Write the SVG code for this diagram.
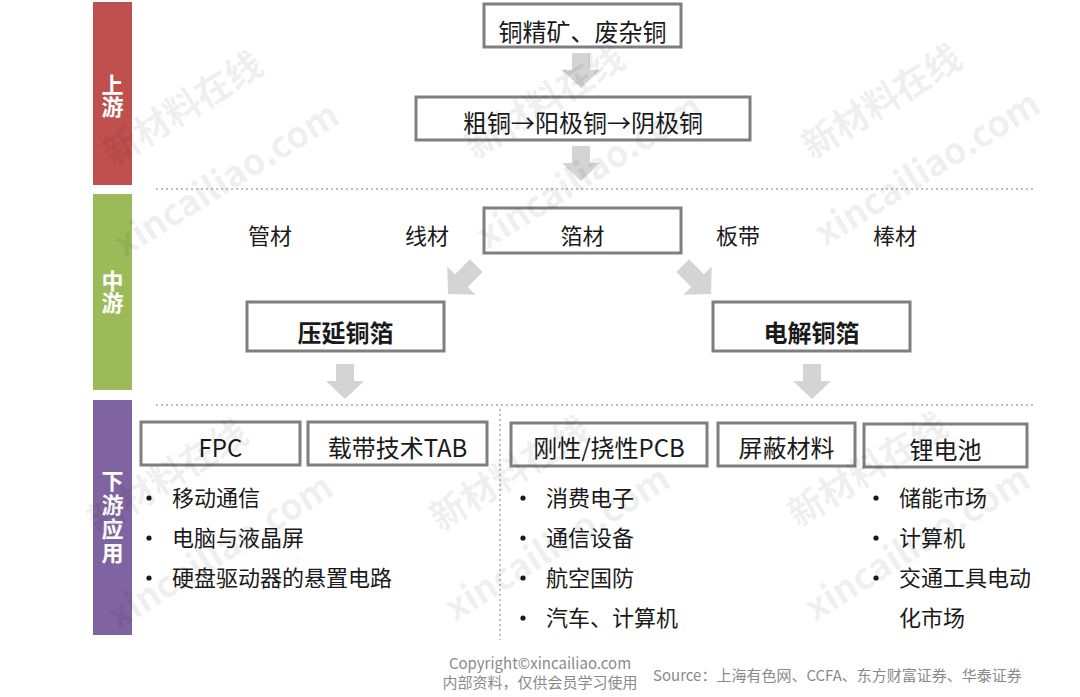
<svg xmlns="http://www.w3.org/2000/svg" width="1080" height="697" viewBox="0 0 1080 697">
<style>
  text { font-family: "Noto Sans CJK SC", "Microsoft YaHei", "Noto Sans", sans-serif; }
  .box { fill: #ffffff; stroke: #7f7f7f; stroke-width: 3; }
  .t { fill: #1a1a1a; font-size: 24px; text-anchor: middle; }
  .tb { fill: #1a1a1a; font-size: 24px; font-weight: bold; text-anchor: middle; }
  .lbl { fill: #1a1a1a; font-size: 22px; text-anchor: middle; }
  .item { fill: #1a1a1a; font-size: 22px; }
  .bul { fill: #1a1a1a; }
  .side { fill: #ffffff; font-size: 22px; font-weight: bold; text-anchor: middle; writing-mode: vertical-rl; }
  .dot { stroke: #bfbfbf; stroke-width: 2; stroke-dasharray: 2 3; fill: none; }
  .arr { fill: #d4d4d4; }
  .foot { fill: #8a8a8a; font-size: 15px; }
  .wm { fill: #000000; fill-opacity: 0.08; font-size: 36px; font-weight: bold; }
</style>
<defs>
  <path id="arrowDown" d="M-9,-35 L9,-35 L9,-18 L19,-18 L0,0 L-19,-18 L-9,-18 Z"/>
  <path id="arrowDiag" d="M-9,-40 L9,-40 L9,-19 L20,-19 L0,0 L-20,-19 L-9,-19 Z"/>
</defs>
<rect width="1080" height="697" fill="#ffffff"/>

<!-- stage bars -->
<g id="stage-upstream">
  <rect x="93" y="2" width="39" height="183" fill="#c0504d"/>
  <text class="side" x="112.5" y="96">上游</text>
</g>
<g id="stage-midstream">
  <rect x="93" y="194" width="39" height="196" fill="#9bbb59"/>
  <text class="side" x="112.5" y="292">中游</text>
</g>
<g id="stage-downstream">
  <rect x="93" y="400" width="39" height="235" fill="#8064a2"/>
  <text class="side" x="112.5" y="518" letter-spacing="2">下游应用</text>
</g>

<!-- separators -->
<g id="separators">
  <line class="dot" x1="156" y1="189" x2="1036" y2="189"/>
  <line class="dot" x1="156" y1="405" x2="1036" y2="405"/>
  <line class="dot" x1="500" y1="409" x2="500" y2="640"/>
</g>

<!-- connectors -->
<g id="connectors">
  <use href="#arrowDown" class="arr" transform="translate(581,88)"/>
  <use href="#arrowDown" class="arr" transform="translate(581,181)"/>
  <use href="#arrowDiag" class="arr" transform="translate(448,294) rotate(45)"/>
  <use href="#arrowDiag" class="arr" transform="translate(711,294) rotate(-45)"/>
  <use href="#arrowDown" class="arr" transform="translate(345,399)"/>
  <use href="#arrowDown" class="arr" transform="translate(812,399)"/>
</g>

<!-- nodes -->
<g id="node-ore">
  <rect class="box" x="484" y="4" width="197" height="43"/>
  <text class="t" x="582.5" y="41">铜精矿、废杂铜</text>
</g>
<g id="node-refining">
  <rect class="box" x="416" y="97" width="334" height="43"/>
  <text class="t" x="583" y="132" font-size="25">粗铜→阳极铜→阴极铜</text>
</g>
<g id="node-tube"><text class="lbl" x="270" y="244">管材</text></g>
<g id="node-wire"><text class="lbl" x="427" y="244">线材</text></g>
<g id="node-foil">
  <rect class="box" x="484" y="208" width="197" height="45"/>
  <text class="lbl" x="582.5" y="244">箔材</text>
</g>
<g id="node-strip"><text class="lbl" x="738" y="244">板带</text></g>
<g id="node-rod"><text class="lbl" x="895" y="244">棒材</text></g>
<g id="node-rolled">
  <rect class="box" x="247" y="302" width="197" height="49"/>
  <text class="tb" x="345.5" y="342">压延铜箔</text>
</g>
<g id="node-electro">
  <rect class="box" x="713" y="302" width="197" height="49"/>
  <text class="tb" x="811.5" y="342">电解铜箔</text>
</g>

<g id="node-fpc">
  <rect class="box" x="141" y="422" width="159" height="43"/>
  <text class="t" x="220.5" y="457">FPC</text>
  <circle class="bul" cx="149" cy="498" r="2.6"/>
  <text class="item" x="172" y="506">移动通信</text>
  <circle class="bul" cx="149" cy="538" r="2.6"/>
  <text class="item" x="172" y="546">电脑与液晶屏</text>
  <circle class="bul" cx="149" cy="578" r="2.6"/>
  <text class="item" x="172" y="586">硬盘驱动器的悬置电路</text>
</g>
<g id="node-tab">
  <rect class="box" x="308" y="422" width="179" height="43"/>
  <text class="t" x="397.5" y="457">载带技术TAB</text>
</g>
<g id="node-pcb">
  <rect class="box" x="511" y="423" width="196" height="43"/>
  <text class="t" x="609" y="457">刚性/挠性PCB</text>
  <circle class="bul" cx="523" cy="498" r="2.6"/>
  <text class="item" x="546" y="506">消费电子</text>
  <circle class="bul" cx="523" cy="538" r="2.6"/>
  <text class="item" x="546" y="546">通信设备</text>
  <circle class="bul" cx="523" cy="578" r="2.6"/>
  <text class="item" x="546" y="586">航空国防</text>
  <circle class="bul" cx="523" cy="618" r="2.6"/>
  <text class="item" x="546" y="626">汽车、计算机</text>
</g>
<g id="node-shield">
  <rect class="box" x="718" y="423" width="137" height="43"/>
  <text class="t" x="786.5" y="457">屏蔽材料</text>
</g>
<g id="node-battery">
  <rect class="box" x="864" y="424" width="163" height="43"/>
  <text class="t" x="945.5" y="459">锂电池</text>
  <circle class="bul" cx="876" cy="498" r="2.6"/>
  <text class="item" x="899" y="506">储能市场</text>
  <circle class="bul" cx="876" cy="538" r="2.6"/>
  <text class="item" x="899" y="546">计算机</text>
  <circle class="bul" cx="876" cy="578" r="2.6"/>
  <text class="item" x="899" y="586">交通工具电动</text>
  <text class="item" x="899" y="626">化市场</text>
</g>

<!-- footer -->
<g id="footer">
  <text class="foot" x="540" y="669" text-anchor="middle">Copyright©xincailiao.com</text>
  <text class="foot" x="540" y="688" text-anchor="middle">内部资料，仅供会员学习使用</text>
  <text class="foot" x="653" y="681">Source：上海有色网、CCFA、东方财富证券、华泰证券</text>
</g>

<!-- watermark -->
<g id="watermark">
  <text class="wm" transform="translate(113,167) rotate(-32)">新材料在线</text>
  <text class="wm" transform="translate(124,258) rotate(-32)">xincailiao.com</text>
  <text class="wm" transform="translate(475,160) rotate(-32)">新材料在线</text>
  <text class="wm" transform="translate(487,250) rotate(-32)">xincailiao.com</text>
  <text class="wm" transform="translate(812,160) rotate(-32)">新材料在线</text>
  <text class="wm" transform="translate(825,247) rotate(-32)">xincailiao.com</text>
  <text class="wm" transform="translate(98,535) rotate(-32)">新材料在线</text>
  <text class="wm" transform="translate(118,630) rotate(-32)">xincailiao.com</text>
  <text class="wm" transform="translate(440,532) rotate(-32)">新材料在线</text>
  <text class="wm" transform="translate(455,622) rotate(-32)">xincailiao.com</text>
  <text class="wm" transform="translate(798,528) rotate(-32)">新材料在线</text>
  <text class="wm" transform="translate(815,622) rotate(-32)">xincailiao.com</text>
</g>
</svg>
